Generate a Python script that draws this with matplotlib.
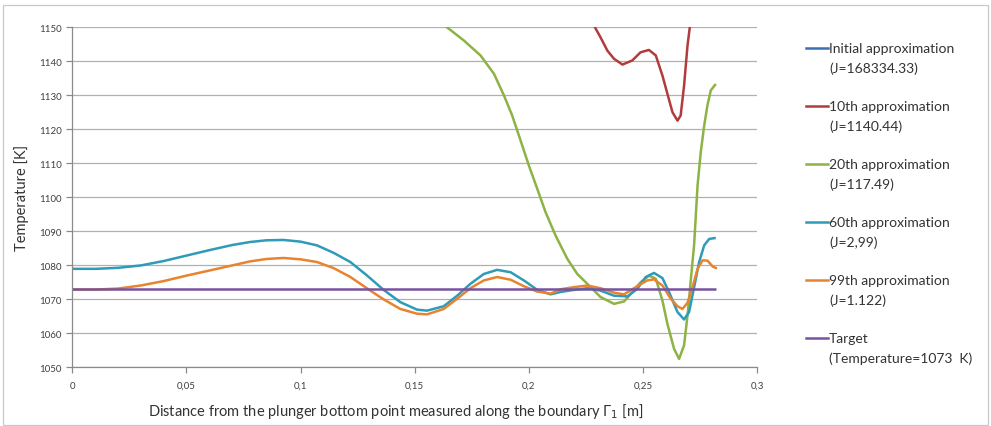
import numpy as np
import matplotlib.pyplot as plt
from matplotlib.lines import Line2D
from matplotlib.patches import Rectangle
from matplotlib.ticker import FixedLocator, FixedFormatter

plt.rcParams['font.family'] = ['Lato', 'DejaVu Sans']

# boundary coordinate [m] and temperature [K] for each approximation
x_init = [0.0, 0.05, 0.1, 0.15, 0.2, 0.25, 0.282]
t_init = [1320, 1318, 1325, 1330, 1310, 1290, 1300]

x_10 = [0.2285, 0.2314, 0.2344, 0.2373, 0.241, 0.2453, 0.2489, 0.2526, 0.2556,
        0.2585, 0.2607, 0.2629, 0.2651, 0.2665, 0.268, 0.2695, 0.2707, 0.272]
t_10 = [1150.5, 1147.0, 1143.1, 1140.7, 1139.0, 1140.2, 1142.6, 1143.3, 1141.7,
        1135.8, 1130.4, 1125.0, 1122.5, 1124.0, 1132.8, 1144.6, 1151.0, 1160.0]

x_20 = [0.1635, 0.1715, 0.1788, 0.1847, 0.1891, 0.1927, 0.1964, 0.2, 0.2037,
        0.2073, 0.2117, 0.2168, 0.2212, 0.2256, 0.2314, 0.2373, 0.2417, 0.2454,
        0.249, 0.2527, 0.2556, 0.2585, 0.2607, 0.2636, 0.2658, 0.268, 0.2695,
        0.271, 0.2724, 0.2739, 0.2753, 0.2768, 0.2782, 0.2797, 0.2819]
t_20 = [1150.3, 1146.1, 1141.7, 1136.3, 1129.9, 1124.0, 1116.6, 1109.3, 1102.4,
        1095.6, 1088.7, 1081.9, 1077.4, 1074.5, 1070.6, 1068.6, 1069.3, 1072.1,
        1075.0, 1076.9, 1076.0, 1069.6, 1062.7, 1055.4, 1052.4, 1056.4, 1065.2,
        1076.0, 1086.0, 1103.4, 1113.2, 1121.0, 1126.9, 1131.4, 1133.3]

x_60 = [0.0, 0.01, 0.02, 0.03, 0.04, 0.05, 0.06, 0.07, 0.0779, 0.085, 0.0925,
        0.1, 0.1072, 0.1145, 0.1218, 0.129, 0.1364, 0.1437, 0.151, 0.1554,
        0.1627, 0.1686, 0.1744, 0.1803, 0.1861, 0.192, 0.1978, 0.2037, 0.2095,
        0.2139, 0.2197, 0.2256, 0.2314, 0.2373, 0.2432, 0.2475, 0.2512, 0.2548,
        0.2585, 0.2614, 0.2651, 0.268, 0.2702, 0.2724, 0.2746, 0.2768, 0.279,
        0.2819]
t_60 = [1078.9, 1078.9, 1079.2, 1079.9, 1081.2, 1082.8, 1084.4, 1085.9, 1086.8, 1087.3, 1087.4,
        1086.9, 1085.8, 1083.6, 1080.9, 1077.0, 1072.7, 1069.1, 1066.9, 1066.6,
        1067.9, 1071.0, 1074.5, 1077.4, 1078.6, 1077.9, 1075.5, 1072.7, 1071.4,
        1072.1, 1072.7, 1073.2, 1072.5, 1071.0, 1070.8, 1073.0, 1076.5, 1077.7,
        1076.2, 1072.1, 1066.2, 1064.0, 1066.2, 1073.5, 1080.9, 1085.8, 1087.7,
        1088.0]

x_99 = [0.0, 0.01, 0.02, 0.03, 0.04, 0.05, 0.06, 0.07, 0.0779, 0.085, 0.0925,
        0.1, 0.1072, 0.1145, 0.1218, 0.129, 0.1364, 0.1437, 0.151, 0.1554,
        0.1627, 0.1686, 0.1744, 0.1803, 0.1861, 0.192, 0.1978, 0.2037, 0.2095,
        0.2139, 0.2197, 0.2256, 0.2314, 0.2373, 0.2417, 0.2475, 0.2519, 0.2548,
        0.2585, 0.2622, 0.2651, 0.2673, 0.2695, 0.2717, 0.2739, 0.2761, 0.2783,
        0.2805, 0.2824]
t_99 = [1072.8, 1072.8, 1073.1, 1074.0, 1075.3, 1076.9, 1078.4, 1079.9, 1081.1, 1081.8, 1082.1,
        1081.7, 1080.9, 1079.1, 1076.5, 1073.2, 1069.9, 1067.1, 1065.7, 1065.5,
        1067.1, 1070.1, 1073.2, 1075.5, 1076.5, 1075.7, 1073.8, 1072.2, 1071.6,
        1072.9, 1073.5, 1074.0, 1073.2, 1071.9, 1071.4, 1073.8, 1075.5, 1075.8,
        1074.0, 1070.1, 1067.9, 1067.1, 1068.9, 1073.5, 1078.9, 1081.4, 1081.3,
        1079.6, 1079.0]

x_target = [0.0, 0.282]
t_target = [1073, 1073]

series = [
    (x_init, t_init, '#3d6fb5', 'Initial approximation', '(J=168334.33)'),
    (x_10, t_10, '#b23b3b', '10th approximation', '(J=1140.44)'),
    (x_20, t_20, '#8db344', '20th approximation', '(J=117.49)'),
    (x_60, t_60, '#2e9bb8', '60th approximation', '(J=2,99)'),
    (x_99, t_99, '#e8832f', '99th approximation', '(J=1.122)'),
    (x_target, t_target, '#77539f', 'Target', '(Temperature=1073  K)'),
]

x_ticks = [0, 0.05, 0.1, 0.15, 0.2, 0.25, 0.3]
x_tick_labels = ['0', '0,05', '0,1', '0,15', '0,2', '0,25', '0,3']
y_ticks = [1050, 1060, 1070, 1080, 1090, 1100, 1110, 1120, 1130, 1140, 1150]

fig = plt.figure(figsize=(9.91, 4.27), dpi=100)
ax = fig.add_axes([0.073, 0.138, 0.691, 0.796])

for xs, ts, color, name, j in series:
    ax.plot(xs, ts, color=color, lw=1.8, solid_joinstyle='round', solid_capstyle='butt')

ax.set_xlim(0, 0.3)
ax.set_ylim(1050, 1150)
ax.xaxis.set_major_locator(FixedLocator(x_ticks))
ax.xaxis.set_major_formatter(FixedFormatter(x_tick_labels))
ax.set_yticks(y_ticks)
ax.grid(axis='y', color='#b0b0b0', lw=0.9)
ax.set_axisbelow(True)
for side in ['top', 'right']:
    ax.spines[side].set_visible(False)
for side in ['left', 'bottom']:
    ax.spines[side].set_color('#8a8a8a')
    ax.spines[side].set_linewidth(0.9)
ax.tick_params(axis='both', labelsize=7, colors='#8a8a8a', labelcolor='#404040',
               length=4, width=0.9)
ax.tick_params(axis='x', pad=6)
ax.set_ylabel('Temperature [K]', fontsize=10.5, color='#333333', labelpad=7)
fig.text(396 / 991, 1 - 412 / 427,
         'Distance from the plunger bottom point measured along the boundary Γ$_1$ [m]',
         fontsize=10.5, color='#333333', ha='center', va='center')

# legend entries with the handle level with the first text line
for i, (xs, ts, color, name, j) in enumerate(series):
    y0 = 1 - (49 + 58 * i) / 427
    fig.add_artist(Line2D([806 / 991, 828 / 991], [y0, y0], color=color, lw=1.8,
                          transform=fig.transFigure))
    fig.text(829 / 991, y0, name, fontsize=10, color='#333333', va='center')
    fig.text(829 / 991, y0 - 20 / 427, j, fontsize=10, color='#333333', va='center')

fig.add_artist(Rectangle((3 / 991, 1 / 427), 985 / 991, 420 / 427, fill=False,
                         edgecolor='#c8c8c8', lw=0.9, transform=fig.transFigure))

fig.savefig('out.png', dpi=100)
